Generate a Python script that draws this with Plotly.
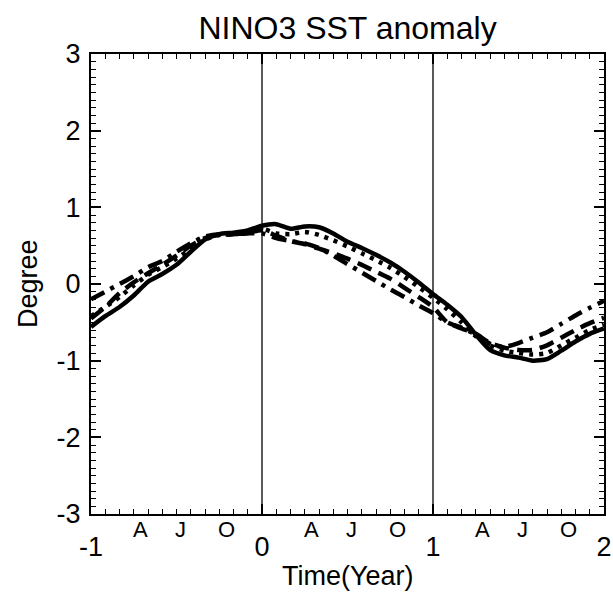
import plotly.graph_objects as go

# ---------------- data ----------------
time_years = [-1 + i / 12 for i in range(37)]

solid = [-0.56, -0.42, -0.30, -0.15, 0.03, 0.13, 0.25, 0.42, 0.58, 0.65, 0.67, 0.70,
         0.76, 0.78, 0.72, 0.75, 0.74, 0.66, 0.55, 0.47, 0.38, 0.28, 0.16, 0.02,
         -0.13, -0.27, -0.43, -0.66, -0.86, -0.93, -0.96, -1.00, -0.98, -0.87, -0.75, -0.65,
         -0.58]
dotted = [-0.42, -0.30, -0.17, -0.02, 0.12, 0.22, 0.33, 0.46, 0.58, 0.64, 0.65, 0.67,
          0.72, 0.66, 0.65, 0.68, 0.64, 0.57, 0.49, 0.40, 0.31, 0.21, 0.09, -0.04,
          -0.18, -0.33, -0.50, -0.68, -0.80, -0.87, -0.90, -0.92, -0.90, -0.80, -0.70, -0.60,
          -0.53]
dashed = [-0.45, -0.30, -0.12, 0.02, 0.14, 0.25, 0.37, 0.50, 0.60, 0.64, 0.65, 0.67,
          0.70, 0.63, 0.56, 0.52, 0.46, 0.40, 0.33, 0.25, 0.16, 0.07, -0.05, -0.17,
          -0.30, -0.50, -0.58, -0.65, -0.77, -0.83, -0.86, -0.86, -0.80, -0.70, -0.60, -0.51,
          -0.44]
dashdot = [-0.20, -0.10, 0.00, 0.10, 0.22, 0.30, 0.42, 0.53, 0.62, 0.65, 0.65, 0.66,
           0.66, 0.60, 0.56, 0.53, 0.47, 0.37, 0.26, 0.15, 0.04, -0.07, -0.17, -0.28,
           -0.38, -0.50, -0.57, -0.66, -0.78, -0.82, -0.77, -0.70, -0.63, -0.52, -0.41, -0.31,
           -0.22]

year_ticks = [-1, 0, 1, 2]
degree_ticks = [-3, -2, -1, 0, 1, 2, 3]
year_boundaries = [0, 1]
month_labels = ["A", "J", "O"]
month_offsets = [3.5 / 12, 6.25 / 12, 9.5 / 12]
label_years = [-1, 0, 1]

FONT = "Liberation Sans, Arial, Helvetica, sans-serif"

fig = go.Figure()

series = [
    (solid, "solid"),
    (dotted, "4px,6px"),
    (dashed, "15px,8px"),
    (dashdot, "15px,7px,4px,7px"),
]
for vals, dash in series:
    fig.add_trace(go.Scatter(
        x=time_years, y=vals, mode="lines",
        line=dict(color="black", width=4.5, dash=dash, shape="spline", smoothing=0.6),
        showlegend=False, hoverinfo="skip",
    ))

for xb in year_boundaries:
    fig.add_shape(type="line", xref="x", yref="paper", x0=xb, x1=xb, y0=0, y1=1,
                  line=dict(color="black", width=1.3))

annotations = []
for yr in label_years:
    for lab, off in zip(month_labels, month_offsets):
        annotations.append(dict(
            x=yr + off, y=0, xref="x", yref="paper", text=lab, showarrow=False,
            yanchor="top", xanchor="center", yshift=-1,
            font=dict(family=FONT, size=22, color="black"),
        ))
annotations.append(dict(
    x=0.5, y=0, xref="paper", yref="paper", text="Time(Year)", showarrow=False,
    yanchor="top", xanchor="center", yshift=-45,
    font=dict(family=FONT, size=27, color="black"),
))
annotations.append(dict(
    x=0, y=0.5, xref="paper", yref="paper", text="Degree", showarrow=False,
    textangle=-90, xanchor="center", yanchor="middle", xshift=-63,
    font=dict(family=FONT, size=27, color="black"),
))

fig.update_layout(
    width=613, height=592,
    margin=dict(l=91, r=9, t=54, b=78, autoexpand=False),
    paper_bgcolor="white", plot_bgcolor="white",
    title=dict(text="NINO3 SST anomaly", x=0.567, xanchor="center", y=0.953, yanchor="middle",
               font=dict(family=FONT, size=32, color="black")),
    annotations=annotations,
    xaxis=dict(
        range=[-1, 2], tickmode="array", tickvals=year_ticks,
        ticktext=[str(v) for v in year_ticks], automargin=False,
        ticks="inside", ticklen=10, tickwidth=1.5, tickcolor="black",
        showline=True, linecolor="black", linewidth=2, mirror="ticks",
        showgrid=False, zeroline=False,
        tickfont=dict(family=FONT, size=27, color="black"),
        ticklabelstandoff=8,
        minor=dict(dtick=1 / 12, tick0=-1, ticks="inside", ticklen=5, tickwidth=1,
                   tickcolor="black", showgrid=False),
    ),
    yaxis=dict(
        range=[-3, 3], tickmode="array", tickvals=degree_ticks,
        ticktext=[str(v) for v in degree_ticks], automargin=False,
        ticks="inside", ticklen=10, tickwidth=1.5, tickcolor="black",
        showline=True, linecolor="black", linewidth=2, mirror="ticks",
        showgrid=False, zeroline=False,
        tickfont=dict(family=FONT, size=27, color="black"),
        ticklabelstandoff=3,
        minor=dict(dtick=0.1, ticks="inside", ticklen=5, tickwidth=1,
                   tickcolor="black", showgrid=False),
    ),
)

fig.write_html(
    "out.html",
    config={"displayModeBar": False},
    post_script="document.body.style.margin='0';document.body.style.overflow='hidden';",
)
